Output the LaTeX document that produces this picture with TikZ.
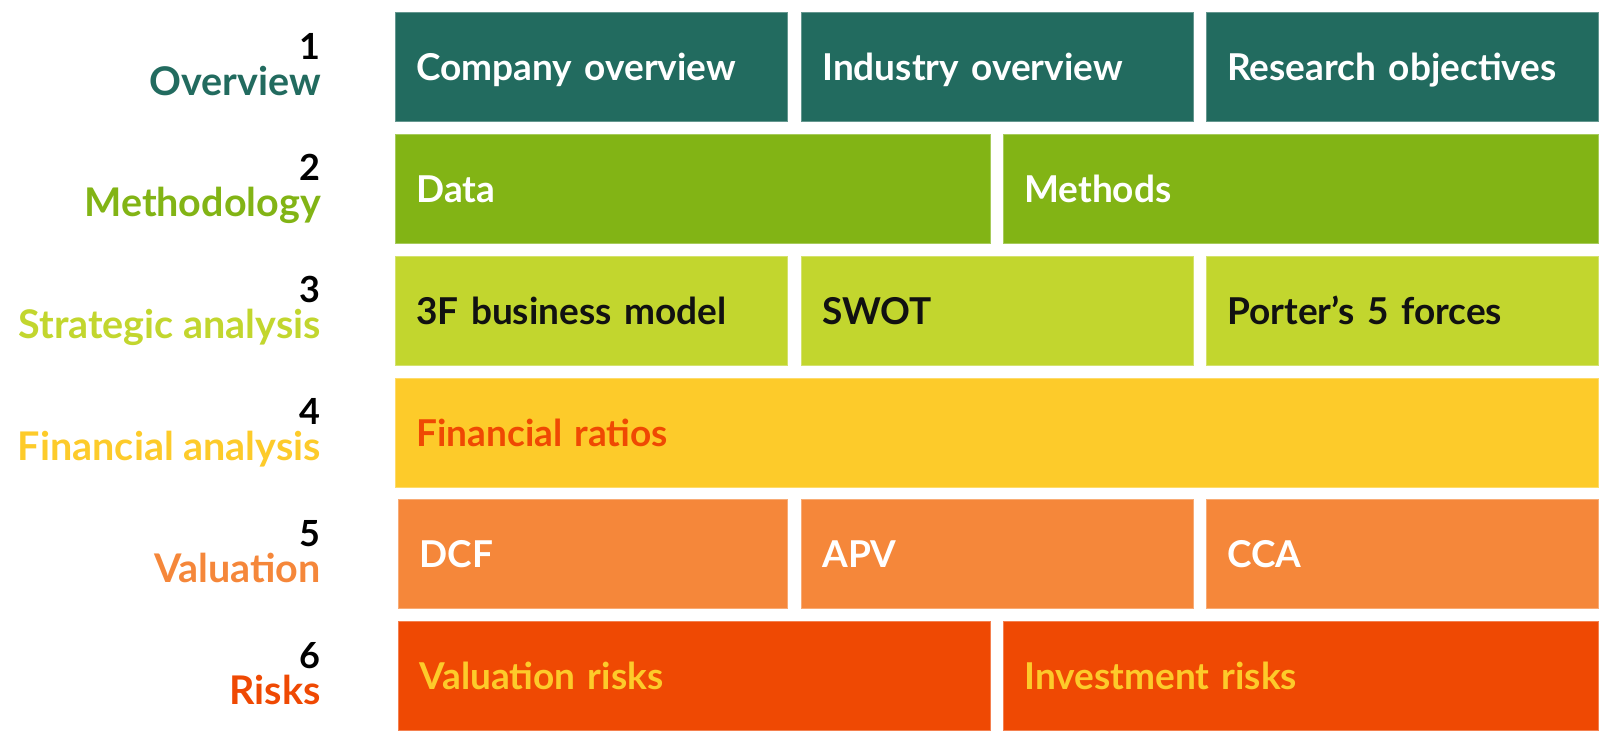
\documentclass[tikz,border=0pt]{standalone}
\usepackage{fontspec}
\setmainfont{Lato}

\definecolor{cOver}{HTML}{226B5F}
\definecolor{cMeth}{HTML}{82B415}
\definecolor{cStrat}{HTML}{C2D62E}
\definecolor{cFin}{HTML}{FDCB2A}
\definecolor{cVal}{HTML}{F5873A}
\definecolor{cRisk}{HTML}{EF4903}
\definecolor{cInk}{HTML}{111111}

\tikzset{
  cell/.style={draw=#1!70!white, line width=0.7pt, fill=#1, anchor=north west,
    minimum height=109pt, inner xsep=21pt, inner ysep=0pt,
    text height=26.5pt, text depth=0pt, align=left,
    font=\bfseries\fontsize{37}{42}\selectfont},
  rowlabel/.style={anchor=base east, inner sep=0pt, font=\bfseries\fontsize{39.5}{44}\selectfont},
  rownum/.style={anchor=base east, inner sep=0pt, text=black, font=\bfseries\fontsize{36}{42}\selectfont},
}

\begin{document}
\begin{tikzpicture}[x=1pt,y=-1pt]
\useasboundingbox (0,0) rectangle (1609,750);

% row 1: overview
\node[cell=cOver, text=white, text width=350pt] (c11) at (395,12) {Company overview};
\node[cell=cOver, text=white, text width=350pt] (c12) at (801,12) {Industry overview};
\node[cell=cOver, text=white, text width=350pt] (c13) at (1206,12) {Research objectives};
\node[rownum] (n1) at (321,59) {1};
\node[rowlabel, text=cOver] (l1) at (321,95) {Overview};

% row 2: methodology
\node[cell=cMeth, text=white, text width=553pt] (c21) at (395,134) {Data};
\node[cell=cMeth, text=white, text width=553pt] (c22) at (1003,134) {Methods};
\node[rownum] (n2) at (321,180) {2};
\node[rowlabel, text=cMeth] (l2) at (321,216) {Methodology};

% row 3: strategic analysis
\node[cell=cStrat, text=cInk, text width=350pt] (c31) at (395,256) {3F business model};
\node[cell=cStrat, text=cInk, text width=350pt] (c32) at (801,256) {SWOT};
\node[cell=cStrat, text=cInk, text width=350pt] (c33) at (1206,256) {Porter’s 5 forces};
\node[rownum] (n3) at (321,302) {3};
\node[rowlabel, text=cStrat] (l3) at (321,338) {Strategic analysis};

% row 4: financial analysis
\node[cell=cFin, text=cRisk, text width=1161pt] (c41) at (395,378) {Financial ratios};
\node[rownum] (n4) at (321,424) {4};
\node[rowlabel, text=cFin] (l4) at (321,460) {Financial analysis};

% row 5: valuation
\node[cell=cVal, text=white, text width=347pt] (c51) at (398,499) {DCF};
\node[cell=cVal, text=white, text width=350pt] (c52) at (801,499) {APV};
\node[cell=cVal, text=white, text width=350pt] (c53) at (1206,499) {CCA};
\node[rownum] (n5) at (321,546) {5};
\node[rowlabel, text=cVal] (l5) at (321,582) {Valuation};

% row 6: risks
\node[cell=cRisk, text=cFin, text width=550pt] (c61) at (398,621) {Valuation risks};
\node[cell=cRisk, text=cFin, text width=553pt] (c62) at (1003,621) {Investment risks};
\node[rownum] (n6) at (321,668) {6};
\node[rowlabel, text=cRisk] (l6) at (321,704) {Risks};
\end{tikzpicture}
\end{document}
